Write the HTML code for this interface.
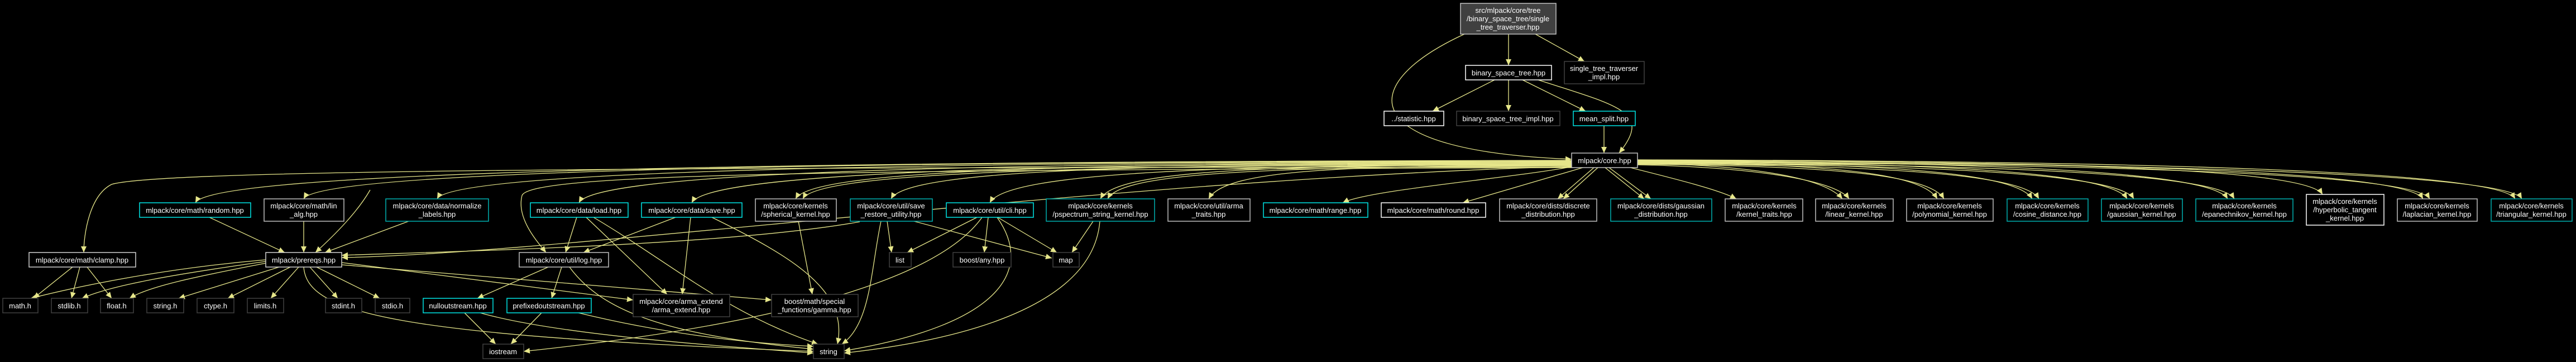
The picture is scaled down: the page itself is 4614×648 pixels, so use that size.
<!DOCTYPE html>
<html><head><meta charset="utf-8"><style>
html,body{margin:0;padding:0;background:#000;}
svg{display:block;}
text{font-family:"Liberation Sans",sans-serif;font-size:13px;fill:#fff;text-anchor:middle;}
.e{fill:none;stroke:#e6e68a;stroke-width:1.3;}
</style></head><body>
<svg width="4614" height="648" viewBox="0 0 4614 648" xmlns="http://www.w3.org/2000/svg">
<defs><marker id="a" markerUnits="userSpaceOnUse" markerWidth="12" markerHeight="10" refX="11" refY="5" orient="auto"><path d="M0,0 L11,5 L0,10 z" fill="#e6e68a"/></marker></defs>
<rect width="4614" height="648" fill="#000"/>
<g class="e" marker-end="url(#a)">
<!-- top -->
<path d="M2702,61 L2702,117"/>
<path d="M2750,61 L2838,110"/>
<path d="M2623,61 C2430,150 2420,270 2815,285"/>
<path d="M2677,143 L2566,199"/>
<path d="M2702,143 L2702,199"/>
<path d="M2727,143 L2840,199"/>
<path d="M2755,143 C2900,190 2960,200 2900,274"/>
<path d="M2873,225 L2873,274"/>
<!-- core to left -->
<path d="M2815,287 C1336,289 380,308 350,363"/>
<path d="M2815,288 C1652,289 574,301 544,356"/>
<path d="M2815,289 C1796,290 813,301 783,356"/>
<path d="M2815,290 C1748,291 1067,308 1037,363"/>
<path d="M2815,291 C1869,292 1269,308 1239,363"/>
<path d="M2815,292 C1981,293 1455,301 1425,356"/>
<path d="M2815,294 C1990,296 1465,305 1438,356"/>
<path d="M2815,293 C2084,294 1626,301 1596,356"/>
<path d="M2815,294 C2190,295 1803,308 1773,363"/>
<path d="M2815,295 C2309,296 2001,301 1971,356"/>
<path d="M2815,297 C2315,299 2010,305 1984,356"/>
<path d="M2815,296 C2425,297 2195,301 2165,356"/>
<path d="M2818,298 C2700,320 2450,340 2405,363"/>
<path d="M2835,300 L2620,363"/>
<path d="M2855,300 L2790,356"/>
<path d="M2862,300 L2800,356"/>
<path d="M2875,300 L2945,356"/>
<path d="M2882,300 L2957,356"/>
<path d="M2815,299 C1500,300 300,300 200,330 C160,350 150,420 150,452"/>
<path d="M2815,298 C2000,320 1000,455 612,461"/>
<path d="M2815,300 C1500,305 950,310 935,350 C925,390 960,430 978,452"/>
<!-- core to right -->
<path d="M2920,300 C3000,320 3080,340 3110,356"/>
<path d="M2933,292 C3150,296 3270,320 3300,356"/>
<path d="M2933,295 C3160,300 3290,325 3312,356"/>
<path d="M2933,291 C3250,293 3440,306 3470,356"/>
<path d="M2933,294 C3260,297 3455,310 3482,356"/>
<path d="M2933,290 C3350,292 3610,306 3640,356"/>
<path d="M2933,293 C3360,296 3625,310 3652,356"/>
<path d="M2933,289 C3450,291 3780,306 3810,356"/>
<path d="M2933,292 C3460,295 3795,310 3822,356"/>
<path d="M2933,288 C3560,290 3960,306 3990,356"/>
<path d="M2933,291 C3570,294 3975,310 4002,356"/>
<path d="M2933,287 C3650,289 4130,300 4160,348"/>
<path d="M2933,287 C3750,289 4310,306 4340,356"/>
<path d="M2933,290 C3760,293 4325,310 4352,356"/>
<path d="M2933,286 C3850,288 4475,306 4505,356"/>
<path d="M2933,289 C3860,292 4490,310 4517,356"/>
<!-- to prereqs -->
<path d="M375,389 L510,452"/>
<path d="M544,396 L544,452"/>
<path d="M732,396 L582,452"/>
<path d="M663,340 C640,380 600,420 565,452"/>
<path d="M1540,397 C1300,440 800,450 612,457"/>
<!-- prereqs to bottom -->
<path d="M476,465 C300,480 150,510 55,534"/>
<path d="M476,468 C320,490 200,510 147,534"/>
<path d="M476,471 C380,490 270,510 232,534"/>
<path d="M500,478 L320,534"/>
<path d="M520,478 L408,534"/>
<path d="M535,478 L485,534"/>
<path d="M555,478 L605,534"/>
<path d="M567,478 L680,534"/>
<path d="M612,470 L1134,537"/>
<path d="M612,474 L1382,537"/>
<path d="M544,478 C550,560 700,600 1457,629"/>
<!-- clamp -->
<path d="M130,478 L60,534"/>
<path d="M143,478 L128,534"/>
<path d="M156,478 L200,534"/>
<!-- log -->
<path d="M982,478 L855,534"/>
<path d="M1006,478 L988,534"/>
<path d="M1020,478 C1080,560 1200,600 1457,625"/>
<!-- nullout, prefixed -->
<path d="M832,560 L888,616"/>
<path d="M860,560 C1000,600 1300,620 1457,632"/>
<path d="M970,560 L915,616"/>
<path d="M1036,560 C1200,600 1350,615 1457,620"/>
<!-- load / save -->
<path d="M1033,389 L1013,452"/>
<path d="M1050,389 L1195,527"/>
<path d="M1063,389 C1200,470 1300,560 1465,616"/>
<path d="M1210,389 L1045,452"/>
<path d="M1237,389 L1222,527"/>
<path d="M1275,389 C1420,460 1520,520 1500,616"/>
<path d="M1430,396 L1455,527"/>
<!-- save_restore, cli, pspectrum -->
<path d="M1589,396 L1597,452"/>
<path d="M1637,396 L1884,462"/>
<path d="M1578,396 C1560,480 1560,580 1508,616"/>
<path d="M1750,389 L1625,452"/>
<path d="M1770,389 L1763,452"/>
<path d="M1787,389 L1893,452"/>
<path d="M1786,389 C1850,480 1800,580 1512,628"/>
<path d="M1759,389 C1680,500 1400,580 938,629"/>
<path d="M1958,396 L1920,452"/>
<path d="M1970,396 C1960,520 1800,600 1512,632"/>
</g>
<g stroke-width="1.5" fill="#000">
<rect x="2616" y="6" width="171" height="55" fill="#404040" stroke="#bfbfbf"/>
<rect x="2625" y="117" width="154" height="26" stroke="#fff"/>
<rect x="2802" y="110" width="143" height="40" stroke="#404040"/>
<rect x="2479" y="199" width="107" height="26" stroke="#fff"/>
<rect x="2609" y="199" width="185" height="26" stroke="#404040"/>
<rect x="2818" y="199" width="111" height="26" stroke="#00e5e5"/>
<rect x="2815" y="274" width="118" height="26" stroke="#bfbfbf"/>
<rect x="52" y="452" width="191" height="26" stroke="#d0d0d0"/>
<rect x="250" y="363" width="199" height="26" stroke="#00e5e5"/>
<rect x="473" y="356" width="143" height="40" stroke="#bfbfbf"/>
<rect x="691" y="356" width="184" height="40" stroke="#00b0b0"/>
<rect x="950" y="363" width="175" height="26" stroke="#00e5e5"/>
<rect x="1149" y="363" width="180" height="26" stroke="#00e5e5"/>
<rect x="1353" y="356" width="145" height="40" stroke="#bfbfbf"/>
<rect x="1523" y="356" width="147" height="40" stroke="#00b0b0"/>
<rect x="1695" y="363" width="156" height="26" stroke="#00e5e5"/>
<rect x="1874" y="356" width="194" height="40" stroke="#00b0b0"/>
<rect x="2092" y="356" width="147" height="40" stroke="#bfbfbf"/>
<rect x="2263" y="363" width="187" height="26" stroke="#00e5e5"/>
<rect x="2474" y="363" width="187" height="26" stroke="#fff"/>
<rect x="2686" y="356" width="174" height="40" stroke="#bfbfbf"/>
<rect x="2885" y="356" width="181" height="40" stroke="#00b0b0"/>
<rect x="3090" y="356" width="139" height="40" stroke="#bfbfbf"/>
<rect x="3252" y="356" width="139" height="40" stroke="#bfbfbf"/>
<rect x="3415" y="356" width="155" height="40" stroke="#bfbfbf"/>
<rect x="3595" y="356" width="145" height="40" stroke="#00b0b0"/>
<rect x="3764" y="356" width="145" height="40" stroke="#00b0b0"/>
<rect x="3933" y="356" width="174" height="40" stroke="#00b0b0"/>
<rect x="4131" y="348" width="139" height="55" stroke="#fff"/>
<rect x="4294" y="356" width="143" height="40" stroke="#bfbfbf"/>
<rect x="4462" y="356" width="145" height="40" stroke="#00b0b0"/>
<rect x="476" y="452" width="136" height="26" stroke="#d0d0d0"/>
<rect x="930" y="452" width="160" height="26" stroke="#bfbfbf"/>
<rect x="1134" y="527" width="173" height="40" stroke="#404040"/>
<rect x="1382" y="527" width="155" height="40" stroke="#404040"/>
<rect x="1593" y="452" width="39" height="26" stroke="#404040"/>
<rect x="1707" y="452" width="104" height="26" stroke="#404040"/>
<rect x="1886" y="452" width="47" height="26" stroke="#404040"/>
<rect x="5" y="534" width="63" height="26" stroke="#404040"/>
<rect x="92" y="534" width="65" height="26" stroke="#404040"/>
<rect x="180" y="534" width="59" height="26" stroke="#404040"/>
<rect x="263" y="534" width="66" height="26" stroke="#404040"/>
<rect x="353" y="534" width="66" height="26" stroke="#404040"/>
<rect x="443" y="534" width="65" height="26" stroke="#404040"/>
<rect x="583" y="534" width="65" height="26" stroke="#404040"/>
<rect x="672" y="534" width="62" height="26" stroke="#404040"/>
<rect x="758" y="534" width="125" height="26" stroke="#00e5e5"/>
<rect x="908" y="534" width="151" height="26" stroke="#00e5e5"/>
<rect x="865" y="616" width="73" height="26" stroke="#404040"/>
<rect x="1457" y="616" width="55" height="26" stroke="#404040"/>
</g>
<g>
<text x="2701" y="23">src/mlpack/core/tree</text><text x="2701" y="38">/binary_space_tree/single</text><text x="2701" y="53">_tree_traverser.hpp</text>
<text x="2702" y="135">binary_space_tree.hpp</text>
<text x="2873" y="127">single_tree_traverser</text><text x="2873" y="142">_impl.hpp</text>
<text x="2532" y="217">../statistic.hpp</text>
<text x="2701" y="217">binary_space_tree_impl.hpp</text>
<text x="2873" y="217">mean_split.hpp</text>
<text x="2874" y="292">mlpack/core.hpp</text>
<text x="147" y="470">mlpack/core/math/clamp.hpp</text>
<text x="349" y="381">mlpack/core/math/random.hpp</text>
<text x="544" y="373">mlpack/core/math/lin</text><text x="544" y="388">_alg.hpp</text>
<text x="783" y="373">mlpack/core/data/normalize</text><text x="783" y="388">_labels.hpp</text>
<text x="1037" y="381">mlpack/core/data/load.hpp</text>
<text x="1239" y="381">mlpack/core/data/save.hpp</text>
<text x="1425" y="373">mlpack/core/kernels</text><text x="1425" y="388">/spherical_kernel.hpp</text>
<text x="1596" y="373">mlpack/core/util/save</text><text x="1596" y="388">_restore_utility.hpp</text>
<text x="1773" y="381">mlpack/core/util/cli.hpp</text>
<text x="1971" y="373">mlpack/core/kernels</text><text x="1971" y="388">/pspectrum_string_kernel.hpp</text>
<text x="2165" y="373">mlpack/core/util/arma</text><text x="2165" y="388">_traits.hpp</text>
<text x="2356" y="381">mlpack/core/math/range.hpp</text>
<text x="2567" y="381">mlpack/core/math/round.hpp</text>
<text x="2773" y="373">mlpack/core/dists/discrete</text><text x="2773" y="388">_distribution.hpp</text>
<text x="2975" y="373">mlpack/core/dists/gaussian</text><text x="2975" y="388">_distribution.hpp</text>
<text x="3160" y="373">mlpack/core/kernels</text><text x="3160" y="388">/kernel_traits.hpp</text>
<text x="3321" y="373">mlpack/core/kernels</text><text x="3321" y="388">/linear_kernel.hpp</text>
<text x="3492" y="373">mlpack/core/kernels</text><text x="3492" y="388">/polynomial_kernel.hpp</text>
<text x="3667" y="373">mlpack/core/kernels</text><text x="3667" y="388">/cosine_distance.hpp</text>
<text x="3836" y="373">mlpack/core/kernels</text><text x="3836" y="388">/gaussian_kernel.hpp</text>
<text x="4020" y="373">mlpack/core/kernels</text><text x="4020" y="388">/epanechnikov_kernel.hpp</text>
<text x="4200" y="365">mlpack/core/kernels</text><text x="4200" y="380">/hyperbolic_tangent</text><text x="4200" y="395">_kernel.hpp</text>
<text x="4365" y="373">mlpack/core/kernels</text><text x="4365" y="388">/laplacian_kernel.hpp</text>
<text x="4534" y="373">mlpack/core/kernels</text><text x="4534" y="388">/triangular_kernel.hpp</text>
<text x="544" y="470">mlpack/prereqs.hpp</text>
<text x="1010" y="470">mlpack/core/util/log.hpp</text>
<text x="1220" y="544">mlpack/core/arma_extend</text><text x="1220" y="559">/arma_extend.hpp</text>
<text x="1459" y="544">boost/math/special</text><text x="1459" y="559">_functions/gamma.hpp</text>
<text x="1612" y="470">list</text>
<text x="1759" y="470">boost/any.hpp</text>
<text x="1909" y="470">map</text>
<text x="36" y="552">math.h</text>
<text x="124" y="552">stdlib.h</text>
<text x="209" y="552">float.h</text>
<text x="296" y="552">string.h</text>
<text x="386" y="552">ctype.h</text>
<text x="475" y="552">limits.h</text>
<text x="615" y="552">stdint.h</text>
<text x="703" y="552">stdio.h</text>
<text x="820" y="552">nulloutstream.hpp</text>
<text x="983" y="552">prefixedoutstream.hpp</text>
<text x="901" y="634">iostream</text>
<text x="1484" y="634">string</text>
</g>
</svg>
</body></html>
